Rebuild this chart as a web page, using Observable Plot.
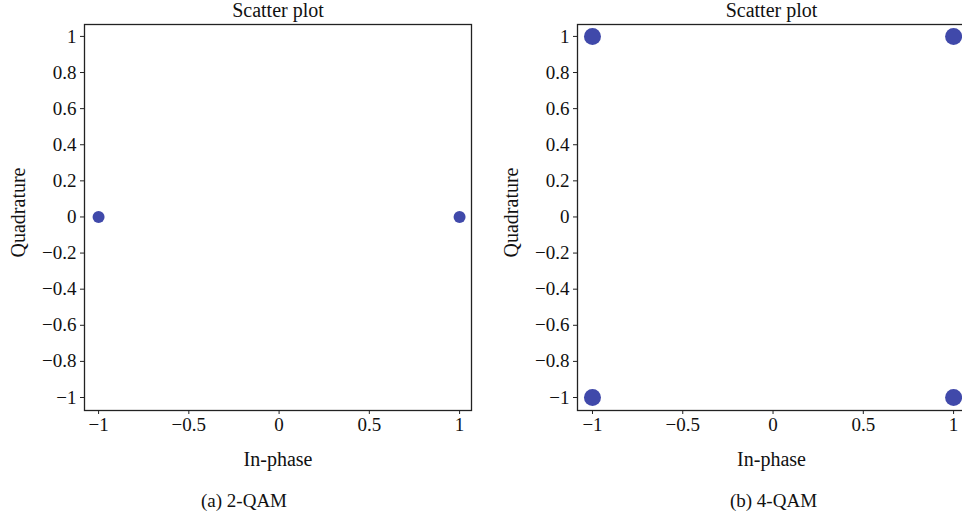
<!DOCTYPE html>
<html>
<head>
<meta charset="utf-8">
<script src="https://cdn.jsdelivr.net/npm/d3@7"></script>
<script src="https://cdn.jsdelivr.net/npm/@observablehq/plot@0.6"></script>
<style>
  html, body { margin: 0; padding: 0; background: #fff; overflow: hidden; }
  #root { position: relative; width: 962px; height: 518px; overflow: hidden; }
  .panel { position: absolute; top: 0; }
</style>
</head>
<body>
<div id="root"></div>
<script>
// ---- data ----
const qam2I = [-1, 1];
const qam2Q = [0, 0];
const qam4I = [-1, 1, -1, 1];
const qam4Q = [1, 1, -1, -1];
const xTicks = [-1, -0.5, 0, 0.5, 1];
const yTicks = [-1, -0.8, -0.6, -0.4, -0.2, 0, 0.2, 0.4, 0.6, 0.8, 1];
const titles = ["Scatter plot", "Scatter plot"];
const xLabel = "In-phase";
const yLabel = "Quadrature";
const captions = ["(a) 2-QAM", "(b) 4-QAM"];

const fmt = d => String(d).replace("-", "\u2212");
const FONT = "Liberation Serif, Times New Roman, serif";
const DOT = "#4049aa";

function panel({I, Q, r, title, caption, width, marginLeft, marginRight, xDomain, capDx}) {
  const data = I.map((v, i) => ({i: v, q: Q[i]}));
  return Plot.plot({
    width, height: 518,
    marginLeft, marginRight, marginTop: 24, marginBottom: 108,
    style: {fontFamily: FONT, fontSize: "19px", color: "#111", background: "transparent", overflow: "visible"},
    x: {domain: xDomain},
    y: {domain: [-1.072, 1.066]},
    marks: [
      Plot.frame({stroke: "#222", strokeWidth: 1.3}),
      Plot.axisX({ticks: xTicks, tickFormat: fmt, tickSize: 4, tickPadding: 3, label: null, stroke: "#222", fontSize: 19}),
      Plot.axisY({ticks: yTicks, tickFormat: fmt, tickSize: 4, tickPadding: 4, label: null, stroke: "#222", fontSize: 19}),
      Plot.dot(data, {x: "i", y: "q", r, fill: DOT, stroke: "none"}),
      Plot.text([title], {frameAnchor: "top", dy: -14, lineAnchor: "middle", textAnchor: "middle", fontSize: 20, fill: "#111"}),
      Plot.text([xLabel], {frameAnchor: "bottom", dy: 49, lineAnchor: "middle", textAnchor: "middle", fontSize: 20, fill: "#111"}),
      Plot.text([yLabel], {frameAnchor: "left", dx: -66, dy: -5, rotate: -90, lineAnchor: "middle", textAnchor: "middle", fontSize: 20, fill: "#111"}),
      Plot.text([caption], {frameAnchor: "bottom", dy: 90, dx: capDx, lineAnchor: "middle", textAnchor: "middle", fontSize: 19, fill: "#111"})
    ]
  });
}

const root = document.getElementById("root");
const left = panel({I: qam2I, Q: qam2Q, r: 6, title: titles[0], caption: captions[0],
  width: 481, marginLeft: 84, marginRight: 10, xDomain: [-1.078, 1.066], capDx: -34});
left.classList.add("panel"); left.style.left = "0px";
root.appendChild(left);

const right = panel({I: qam4I, Q: qam4Q, r: 8.5, title: titles[1], caption: captions[1],
  width: 484, marginLeft: 96, marginRight: 0, xDomain: [-1.083, 1.066], capDx: 2});
right.classList.add("panel"); right.style.left = "481px";
root.appendChild(right);
</script>
</body>
</html>
